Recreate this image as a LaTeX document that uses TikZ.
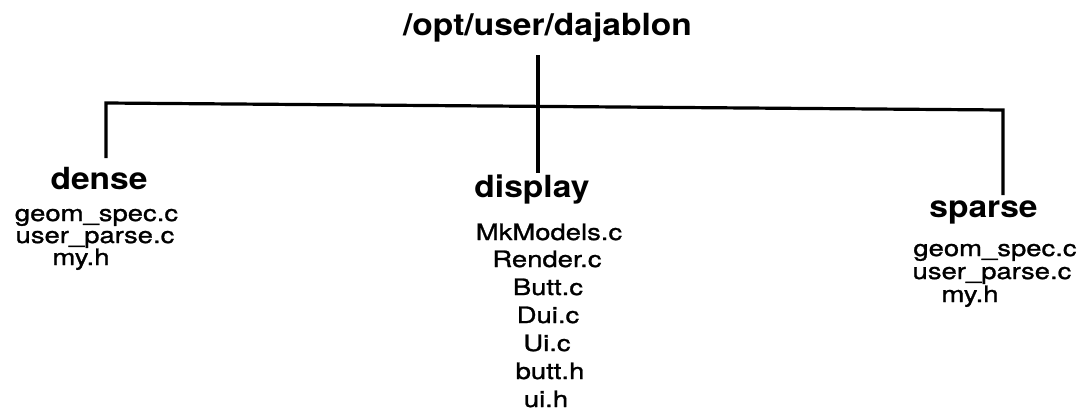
\documentclass[tikz,border=0pt]{standalone}
\usepackage{fontspec}
\setmainfont{TeX Gyre Heros}[FakeStretch=1.1]
\newfontfamily\filefont{TeX Gyre Heros}[FakeStretch=1.22,FakeBold=1.2]
\begin{document}
\begin{tikzpicture}[x=1pt,y=-1pt,
  hdr/.style={inner sep=0pt,anchor=base,font=\fontsize{30.5}{32}\selectfont\bfseries},
  file/.style={inner sep=0pt,anchor=base,font=\filefont\fontsize{22.5}{24}\selectfont},
  edge/.style={line width=3.2pt,line join=miter}]
\path[use as bounding box,fill=white] (0,0) rectangle (1086,418);
% root
\node[hdr] (root) at (547.5,35) {/opt/user/dajablon};
% headers
\node[hdr] (dense) at (99,189) {dense};
\node[hdr] (display) at (532,197) {display};
\node[hdr] (sparse) at (983.5,217) {sparse};
% dense files
\node[file] (d1) at (96.5,221) {geom\_spec.c};
\node[file] (d2) at (95,243) {user\_parse.c};
\node[file] (d3) at (81,265) {my.h};
% display files
\node[file] (p1) at (549,240) {MkModels.c};
\node[file] (p2) at (547,267) {Render.c};
\node[file] (p3) at (548,295) {Butt.c};
\node[file] (p4) at (548,323) {Dui.c};
\node[file] (p5) at (547,351) {Ui.c};
\node[file] (p6) at (550,379) {butt.h};
\node[file] (p7) at (546,407) {ui.h};
% sparse files
\node[file] (s1) at (995,256) {geom\_spec.c};
\node[file] (s2) at (992,279) {user\_parse.c};
\node[file] (s3) at (970,302) {my.h};
% connectors
\coordinate (top) at (538,55);
\coordinate (jl) at (106,103);
\coordinate (jr) at (1003,110);
\coordinate (bl) at (106,158);
\coordinate (bc) at (538,173);
\coordinate (br) at (1003,195);
\draw[edge] (top) -- (bc);
\draw[edge] (bl) -- (jl) -- (jr) -- (br);
\end{tikzpicture}
\end{document}
